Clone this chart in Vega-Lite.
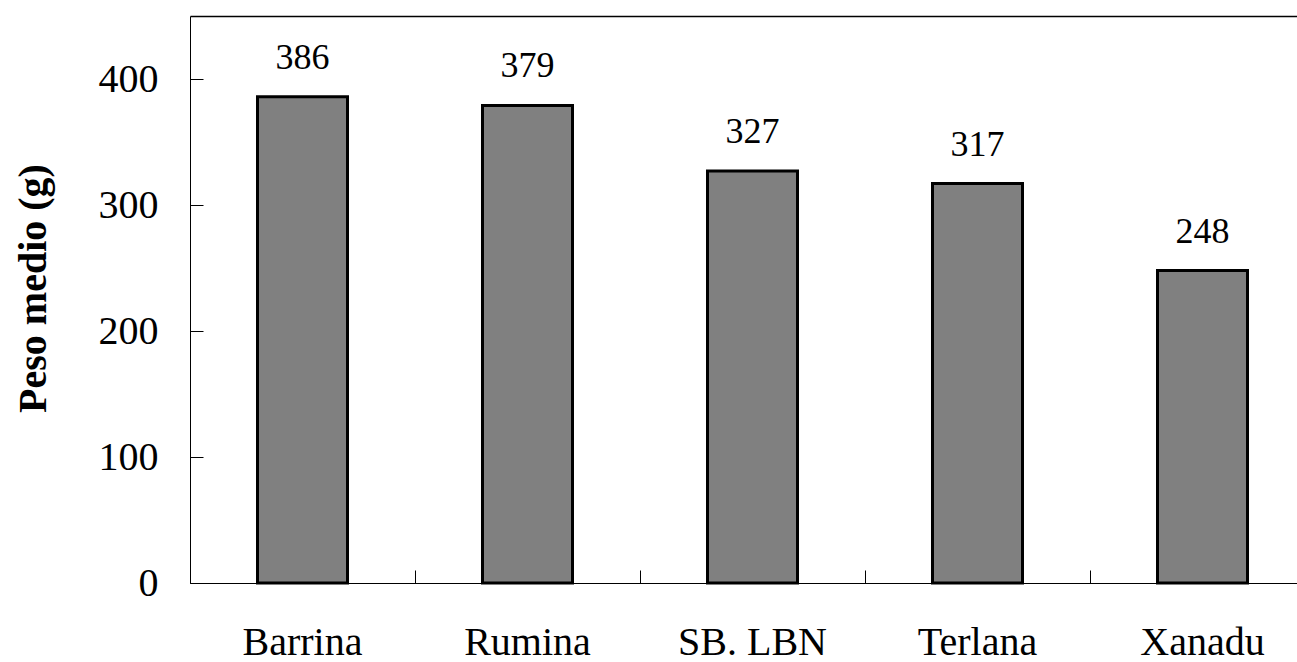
{
  "$schema": "https://vega.github.io/schema/vega-lite/v6.json",
  "width": 1107,
  "height": 567,
  "autosize": {"type": "none"},
  "padding": {"left": 190, "top": 16, "right": 0, "bottom": 79},
  "background": "white",
  "config": {"view": {"stroke": null}, "font": "Liberation Serif"},
  "data": {
    "values": [
      {"variedad": "Barrina", "peso": 386},
      {"variedad": "Rumina", "peso": 379},
      {"variedad": "SB. LBN", "peso": 327},
      {"variedad": "Terlana", "peso": 317},
      {"variedad": "Xanadu", "peso": 248}
    ]
  },
  "encoding": {
    "y": {
      "field": "peso",
      "type": "quantitative",
      "scale": {"domain": [0, 450], "nice": false},
      "axis": {
        "title": "Peso medio (g)",
        "titleFont": "Liberation Serif",
        "titleFontSize": 40,
        "titleFontWeight": "bold",
        "titleColor": "black",
        "titleX": -157,
        "titleY": 272,
        "titleBaseline": "middle",
        "values": [0, 100, 200, 300, 400],
        "tickSize": -13,
        "tickColor": "black",
        "domainColor": "black",
        "labelFont": "Liberation Serif",
        "labelFontSize": 40,
        "labelColor": "black",
        "labelPadding": 45,
        "grid": false
      }
    }
  },
  "layer": [
    {
      "mark": {"type": "bar", "width": {"band": 0.4}, "fill": "#808080", "stroke": "black", "strokeWidth": 3},
      "encoding": {
        "x": {
          "field": "variedad",
          "type": "nominal",
          "sort": null,
          "scale": {"type": "band", "range": [0, 1125], "paddingInner": 0, "paddingOuter": 0},
          "axis": {
            "title": null,
            "bandPosition": 0,
            "labelAngle": 0,
            "labelFont": "Liberation Serif",
            "labelFontSize": 40,
            "labelColor": "black",
            "labelPadding": 52,
            "tickSize": -13,
            "tickColor": "black",
            "domainColor": "black",
            "grid": false
          }
        }
      }
    },
    {
      "mark": {"type": "text", "dy": -28, "fontSize": 36, "baseline": "alphabetic", "font": "Liberation Serif", "color": "black"},
      "encoding": {
        "x": {
          "field": "variedad",
          "type": "nominal",
          "sort": null,
          "axis": {"orient": "top", "title": null, "labels": false, "ticks": false, "domainColor": "black", "domainWidth": 1.5, "grid": false}
        },
        "text": {"field": "peso", "type": "quantitative"}
      }
    }
  ],
  "resolve": {"axis": {"x": "independent"}}
}
